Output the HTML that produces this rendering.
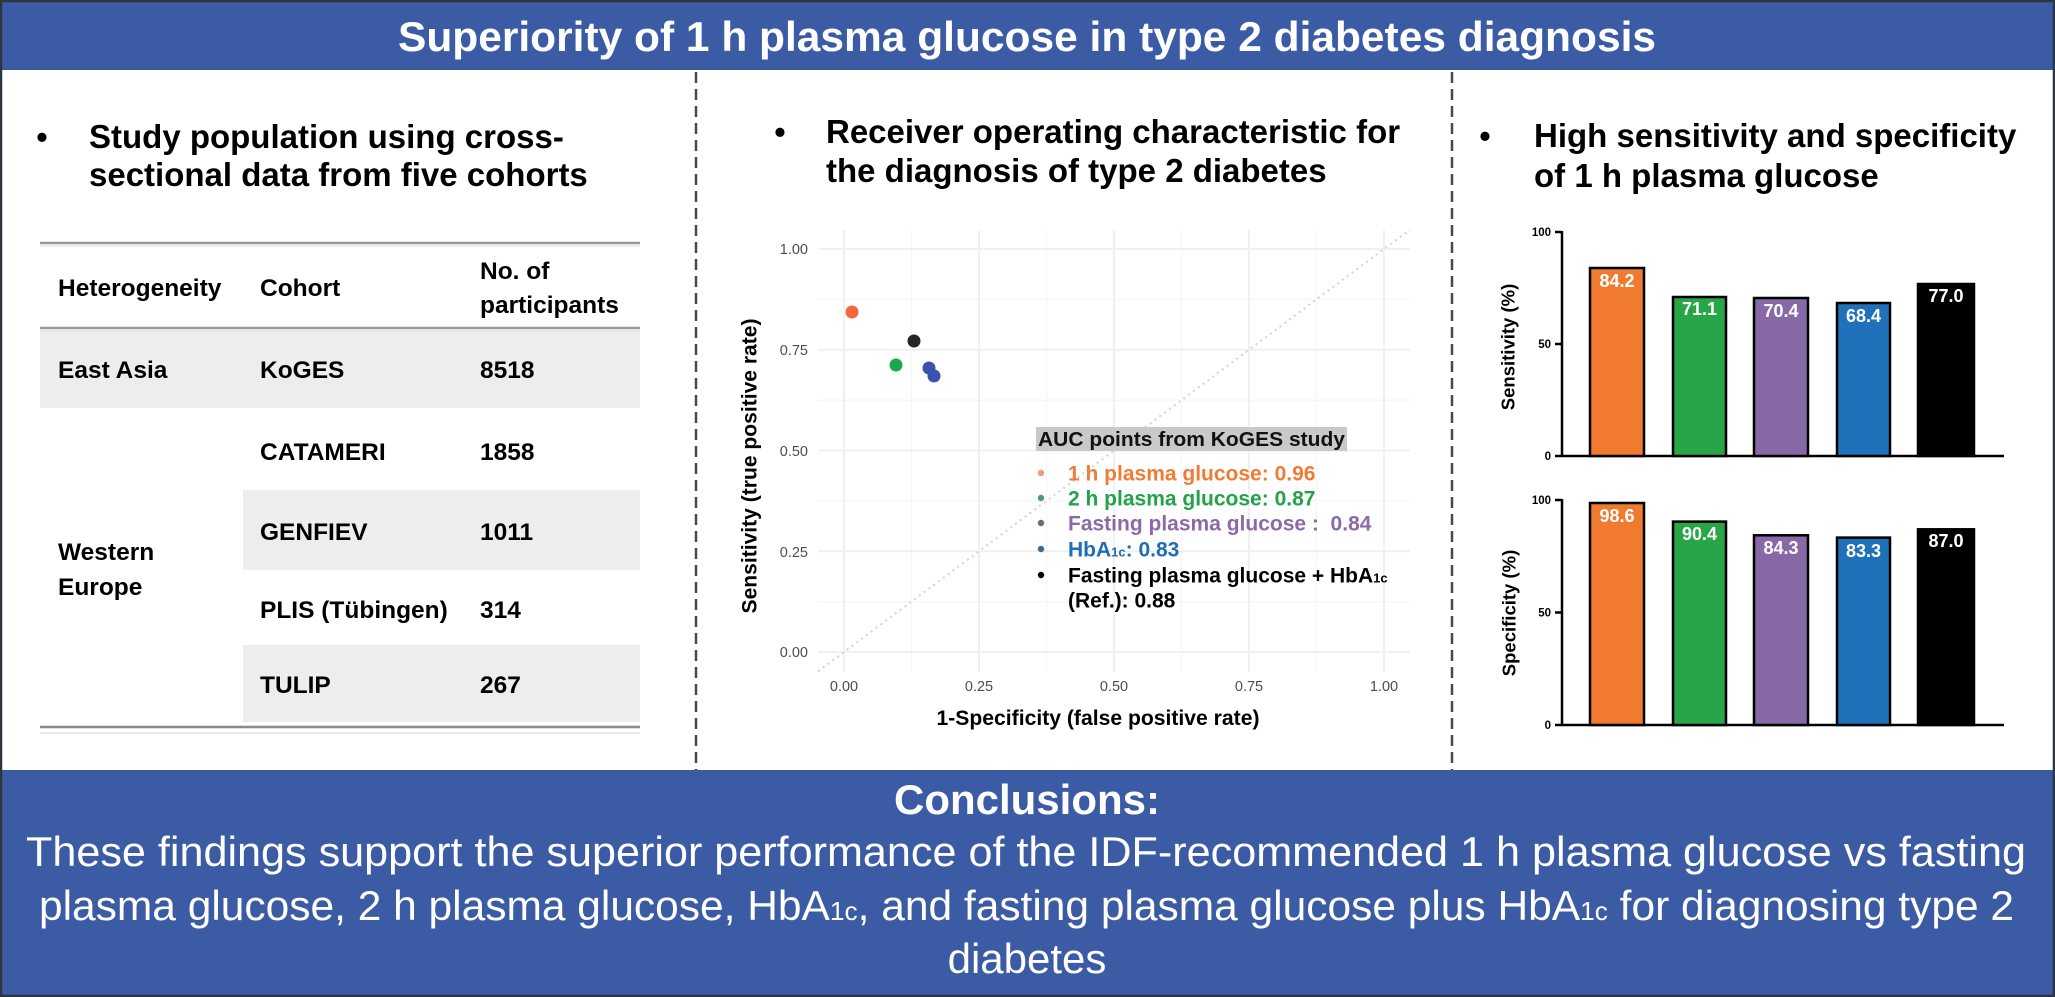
<!DOCTYPE html>
<html>
<head>
<meta charset="utf-8">
<style>
  html,body{margin:0;padding:0;background:#fff;}
  body{width:2055px;height:997px;overflow:hidden;}
  svg{display:block;font-family:"Liberation Sans",Arial,sans-serif;}
</style>
</head>
<body>
<svg width="2055" height="997" viewBox="0 0 2055 997" xmlns="http://www.w3.org/2000/svg">
  <!-- background -->
  <rect x="0" y="0" width="2055" height="997" fill="#ffffff"/>

  <!-- Header band -->
  <rect x="0" y="0" width="2055" height="70" fill="#3c5ba5"/>
  <text x="1027" y="51" text-anchor="middle" font-size="41.5" font-weight="bold" fill="#ffffff" textLength="1258" lengthAdjust="spacingAndGlyphs">Superiority of 1 h plasma glucose in type 2 diabetes diagnosis</text>

  <!-- Dashed separators -->
  <line x1="696" y1="72" x2="696" y2="770" stroke="#4a4a4a" stroke-width="2.5" stroke-dasharray="11 6"/>
  <line x1="1452" y1="72" x2="1452" y2="770" stroke="#4a4a4a" stroke-width="2.5" stroke-dasharray="11 6"/>

  <!-- ================= LEFT PANEL ================= -->
  <text x="42" y="148" text-anchor="middle" font-size="32" font-weight="bold" fill="#000">•</text>
  <text x="89" y="148" font-size="33" font-weight="bold" fill="#000">Study population using cross-</text>
  <text x="89" y="186" font-size="33" font-weight="bold" fill="#000">sectional data from five cohorts</text>

  <!-- table backgrounds -->
  <rect x="40" y="330" width="600" height="78" fill="#ededed"/>
  <rect x="243" y="490" width="397" height="80" fill="#ededed"/>
  <rect x="243" y="645" width="397" height="77" fill="#ededed"/>
  <!-- table rules -->
  <line x1="40" y1="243" x2="640" y2="243" stroke="#9a9a9a" stroke-width="2.5"/>
  <line x1="40" y1="246" x2="640" y2="246" stroke="#e6e6e6" stroke-width="1.5"/>
  <line x1="40" y1="328" x2="640" y2="328" stroke="#9a9a9a" stroke-width="2.5"/>
  <line x1="40" y1="331" x2="640" y2="331" stroke="#e0e0e0" stroke-width="1.5"/>
  <line x1="40" y1="727" x2="640" y2="727" stroke="#8a8a8a" stroke-width="2.5"/>
  <line x1="40" y1="733" x2="640" y2="733" stroke="#e2e2e2" stroke-width="1.5"/>

  <g font-size="24.5" font-weight="bold" fill="#000">
    <text x="58" y="296">Heterogeneity</text>
    <text x="260" y="296">Cohort</text>
    <text x="480" y="279">No. of</text>
    <text x="480" y="313">participants</text>

    <text x="58" y="378">East Asia</text>
    <text x="260" y="378">KoGES</text>
    <text x="480" y="378">8518</text>

    <text x="260" y="460">CATAMERI</text>
    <text x="480" y="460">1858</text>

    <text x="58" y="560">Western</text>
    <text x="58" y="595">Europe</text>
    <text x="260" y="540">GENFIEV</text>
    <text x="480" y="540">1011</text>

    <text x="260" y="618">PLIS (Tübingen)</text>
    <text x="480" y="618">314</text>

    <text x="260" y="693">TULIP</text>
    <text x="480" y="693">267</text>
  </g>

  <!-- ================= MIDDLE PANEL ================= -->
  <text x="780" y="143" text-anchor="middle" font-size="32" font-weight="bold" fill="#000">•</text>
  <text x="826" y="143" font-size="33" font-weight="bold" fill="#000">Receiver operating characteristic for</text>
  <text x="826" y="182" font-size="33" font-weight="bold" fill="#000">the diagnosis of type 2 diabetes</text>

  <!-- grid: minor -->
  <g stroke="#f6f6f6" stroke-width="1.2">
    <line x1="911.5" y1="230" x2="911.5" y2="672"/>
    <line x1="1046.5" y1="230" x2="1046.5" y2="672"/>
    <line x1="1181.5" y1="230" x2="1181.5" y2="672"/>
    <line x1="1316.5" y1="230" x2="1316.5" y2="672"/>
    <line x1="818" y1="601.6" x2="1410" y2="601.6"/>
    <line x1="818" y1="500.9" x2="1410" y2="500.9"/>
    <line x1="818" y1="400.1" x2="1410" y2="400.1"/>
    <line x1="818" y1="299.4" x2="1410" y2="299.4"/>
  </g>
  <!-- grid: major -->
  <g stroke="#f0f0f0" stroke-width="2">
    <line x1="844" y1="230" x2="844" y2="672"/>
    <line x1="979" y1="230" x2="979" y2="672"/>
    <line x1="1114" y1="230" x2="1114" y2="672"/>
    <line x1="1249" y1="230" x2="1249" y2="672"/>
    <line x1="1384" y1="230" x2="1384" y2="672"/>
    <line x1="818" y1="652" x2="1410" y2="652"/>
    <line x1="818" y1="551.25" x2="1410" y2="551.25"/>
    <line x1="818" y1="450.5" x2="1410" y2="450.5"/>
    <line x1="818" y1="349.75" x2="1410" y2="349.75"/>
    <line x1="818" y1="249" x2="1410" y2="249"/>
  </g>
  <!-- diagonal reference -->
  <line x1="818" y1="671.4" x2="1410" y2="229.6" stroke="#d2d2d2" stroke-width="2" stroke-dasharray="2 4"/>

  <!-- tick labels -->
  <g font-size="14.5" fill="#4d4d4d" text-anchor="end">
    <text x="808" y="254">1.00</text>
    <text x="808" y="355">0.75</text>
    <text x="808" y="456">0.50</text>
    <text x="808" y="557">0.25</text>
    <text x="808" y="657">0.00</text>
  </g>
  <g font-size="14.5" fill="#4d4d4d" text-anchor="middle">
    <text x="844" y="691">0.00</text>
    <text x="979" y="691">0.25</text>
    <text x="1114" y="691">0.50</text>
    <text x="1249" y="691">0.75</text>
    <text x="1384" y="691">1.00</text>
  </g>
  <!-- axis titles -->
  <text transform="translate(749,466) rotate(-90)" text-anchor="middle" dy="0.35em" font-size="21" font-weight="bold" fill="#000" textLength="295" lengthAdjust="spacingAndGlyphs">Sensitivity (true positive rate)</text>
  <text x="1098" y="725" text-anchor="middle" font-size="21" font-weight="bold" fill="#000" textLength="323" lengthAdjust="spacingAndGlyphs">1-Specificity (false positive rate)</text>

  <!-- points -->
  <circle cx="852" cy="312" r="6.5" fill="#f4683b"/>
  <circle cx="896" cy="365" r="6.5" fill="#19a84f"/>
  <circle cx="929" cy="368" r="6.5" fill="#3a52b0"/>
  <circle cx="934" cy="376" r="6.5" fill="#3a52b0"/>
  <circle cx="914" cy="341" r="6.5" fill="#262626"/>

  <!-- legend -->
  <rect x="1036" y="427" width="311" height="24" fill="#c9c9c9"/>
  <text x="1038" y="446" font-size="20.5" font-weight="bold" fill="#111" textLength="307" lengthAdjust="spacingAndGlyphs">AUC points from KoGES study</text>

  <circle cx="1041" cy="473" r="3.2" fill="#f09a78"/>
  <circle cx="1041" cy="498" r="3.2" fill="#4f9a6a"/>
  <circle cx="1041" cy="523" r="3.2" fill="#6e6a78"/>
  <circle cx="1041" cy="549" r="3.2" fill="#3f6a98"/>
  <circle cx="1041" cy="575" r="3.2" fill="#000"/>

  <g font-size="21" font-weight="bold">
    <text x="1068" y="480.5" fill="#ef7b34">1 h plasma glucose: 0.96</text>
    <text x="1068" y="505.5" fill="#23a24a">2 h plasma glucose: 0.87</text>
    <text x="1068" y="530.5" fill="#8b68a8">Fasting plasma glucose :&#160; 0.84</text>
    <text x="1068" y="556.5" fill="#1f6eb5">HbA<tspan font-size="13">1c</tspan>: 0.83</text>
    <text x="1068" y="582.5" fill="#000">Fasting plasma glucose + HbA<tspan font-size="13">1c</tspan></text>
    <text x="1068" y="607.5" fill="#000">(Ref.): 0.88</text>
  </g>

  <!-- ================= RIGHT PANEL ================= -->
  <text x="1485" y="147" text-anchor="middle" font-size="32" font-weight="bold" fill="#000">•</text>
  <text x="1534" y="147" font-size="33" font-weight="bold" fill="#000">High sensitivity and specificity</text>
  <text x="1534" y="187" font-size="33" font-weight="bold" fill="#000">of 1 h plasma glucose</text>

  <!-- Sensitivity chart -->
  <g stroke="#000" stroke-width="2.5">
    <line x1="1562" y1="231" x2="1562" y2="457"/>
    <line x1="1555" y1="232" x2="1562" y2="232"/>
    <line x1="1555" y1="344" x2="1562" y2="344"/>
    <line x1="1555" y1="456" x2="2004" y2="456"/>
  </g>
  <g font-size="11.5" font-weight="bold" fill="#000" text-anchor="end">
    <text x="1551" y="236">100</text>
    <text x="1551" y="348">50</text>
    <text x="1551" y="460">0</text>
  </g>
  <text transform="translate(1508,347) rotate(-90)" text-anchor="middle" dy="0.35em" font-size="18.5" font-weight="bold" fill="#000">Sensitivity (%)</text>
  <g stroke="#000" stroke-width="2.5">
    <rect x="1590" y="268" width="54" height="188" fill="#f07b2f"/>
    <rect x="1673" y="297" width="53" height="159" fill="#27a547"/>
    <rect x="1754" y="298" width="54" height="158" fill="#8669a6"/>
    <rect x="1837" y="303" width="53" height="153" fill="#1f72b9"/>
    <rect x="1918" y="284" width="56" height="172" fill="#000000"/>
  </g>
  <g font-size="18" font-weight="bold" fill="#ffffff" text-anchor="middle">
    <text x="1617" y="287">84.2</text>
    <text x="1699.5" y="315">71.1</text>
    <text x="1781" y="317">70.4</text>
    <text x="1863.5" y="322">68.4</text>
    <text x="1946" y="302">77.0</text>
  </g>

  <!-- Specificity chart -->
  <g stroke="#000" stroke-width="2.5">
    <line x1="1562" y1="499" x2="1562" y2="726"/>
    <line x1="1555" y1="500" x2="1562" y2="500"/>
    <line x1="1555" y1="612.5" x2="1562" y2="612.5"/>
    <line x1="1555" y1="725" x2="2004" y2="725"/>
  </g>
  <g font-size="11.5" font-weight="bold" fill="#000" text-anchor="end">
    <text x="1551" y="504">100</text>
    <text x="1551" y="616.5">50</text>
    <text x="1551" y="729">0</text>
  </g>
  <text transform="translate(1509,613) rotate(-90)" text-anchor="middle" dy="0.35em" font-size="18.5" font-weight="bold" fill="#000">Specificity (%)</text>
  <g stroke="#000" stroke-width="2.5">
    <rect x="1590" y="503" width="54" height="222" fill="#f07b2f"/>
    <rect x="1673" y="521.6" width="53" height="203.4" fill="#27a547"/>
    <rect x="1754" y="535.3" width="54" height="189.7" fill="#8669a6"/>
    <rect x="1837" y="537.6" width="53" height="187.4" fill="#1f72b9"/>
    <rect x="1918" y="529.3" width="56" height="195.7" fill="#000000"/>
  </g>
  <g font-size="18" font-weight="bold" fill="#ffffff" text-anchor="middle">
    <text x="1617" y="522">98.6</text>
    <text x="1699.5" y="540">90.4</text>
    <text x="1781" y="554">84.3</text>
    <text x="1863.5" y="557">83.3</text>
    <text x="1946" y="547">87.0</text>
  </g>

  <!-- ================= CONCLUSION BAND ================= -->
  <rect x="0" y="770" width="2055" height="225" fill="#3c5ba5"/>
  <text x="1027" y="814" text-anchor="middle" font-size="42" font-weight="bold" fill="#ffffff">Conclusions:</text>
  <text x="1026" y="866" text-anchor="middle" font-size="42" fill="#ffffff" textLength="2000" lengthAdjust="spacingAndGlyphs">These findings support the superior performance of the IDF-recommended 1 h plasma glucose vs fasting</text>
  <text x="1026.5" y="920" text-anchor="middle" font-size="42" fill="#ffffff" textLength="1975" lengthAdjust="spacingAndGlyphs">plasma glucose, 2 h plasma glucose, HbA<tspan font-size="26">1c</tspan>, and fasting plasma glucose plus HbA<tspan font-size="26">1c</tspan> for diagnosing type 2</text>
  <text x="1027" y="973" text-anchor="middle" font-size="42" fill="#ffffff">diabetes</text>

  <!-- outer border -->
  <rect x="1" y="1" width="2053" height="995" fill="none" stroke="#2e3540" stroke-width="2.5"/>
</svg>
</body>
</html>
